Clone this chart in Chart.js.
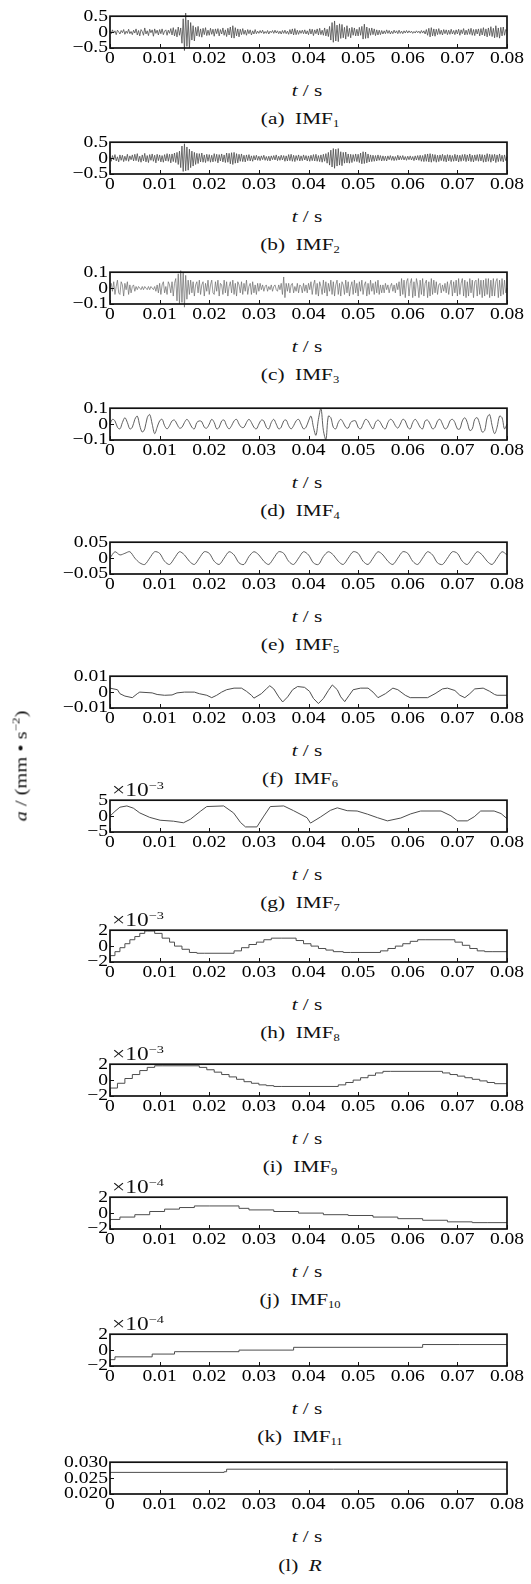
<!DOCTYPE html>
<html>
<head>
<meta charset="utf-8">
<script src="https://cdn.jsdelivr.net/npm/chart.js@4.4.1/dist/chart.umd.min.js"></script>
<style>
  body{margin:0;background:#fff;width:531px;height:1584px;position:relative;overflow:hidden;
       font-family:"Liberation Serif","Times New Roman",serif;color:#111}
  canvas{position:absolute;left:0}
  .lbl{position:absolute;white-space:nowrap;font-size:17px;line-height:1;
       transform:translate(-50%,-50%) scaleX(1.25)}
  .exp{position:absolute;white-space:nowrap;font-size:18px;line-height:1;
       transform-origin:left center;transform:translateY(-50%) scaleX(1.3)}
  sub{font-size:10px;vertical-align:-3px}
  sup{font-size:11px;vertical-align:7px}
  .ytitle{position:absolute;left:20px;top:766px;white-space:nowrap;font-size:17px;line-height:1;
       transform:translate(-50%,-50%) rotate(-90deg) scaleX(1.2)}
</style>
</head>
<body>
<script>
/* ======== DATA ======== */
const xTicks = [0, 0.01, 0.02, 0.03, 0.04, 0.05, 0.06, 0.07, 0.08];
const xTickLabels = ['0','0.01','0.02','0.03','0.04','0.05','0.06','0.07','0.08'];

// evenly sampled series over 0 .. 0.08 s
const imf1 = [
  .02,-.05,.07,-.03,.04,-.08,.06,.01,-.06,.05,-.02,.08,-.07,.03,-.04,.09,-.05,.02,-.08,.06,
  -.03,.1,-.09,.05,-.12,.08,.02,-.1,.13,-.06,.04,-.11,.09,-.02,.07,-.13,.1,-.04,.06,-.09,
  .08,-.05,.1,-.08,.03,.07,-.1,.06,-.04,.11,-.09,.14,-.12,.08,-.15,.16,-.1,.13,-.35,.42,
  -.58,.6,-.45,.38,-.5,.3,-.25,.2,-.28,.15,-.12,.18,-.14,.1,-.16,.12,-.08,.14,-.11,.06,
  -.1,.12,-.07,.09,-.13,.1,-.05,.11,-.12,.08,-.06,.13,-.1,.07,-.14,.12,-.09,.16,-.18,.2,
  -.19,.14,-.12,.1,-.15,.09,-.08,.11,-.07,.06,-.1,.08,-.05,.07,-.09,.04,-.06,.08,-.05,.03,
  -.04,.05,-.03,.06,-.05,.02,-.04,.05,-.06,.03,-.02,.05,-.04,.06,-.03,.04,-.05,.03,-.06,.05,
  -.04,.06,-.05,.03,-.07,.08,-.06,.1,-.09,.11,-.08,.06,-.07,.05,-.04,.06,-.05,.07,-.06,.04,
  -.08,.1,-.06,.09,-.11,.07,-.05,.1,-.09,.12,-.08,.06,-.1,.13,-.12,.09,-.14,.18,-.25,.3,
  -.32,.35,-.28,.22,-.3,.26,-.2,.24,-.18,.15,-.22,.2,-.14,.12,-.18,.15,-.1,.13,-.12,.09,
  -.12,.15,-.1,.18,-.22,.25,-.2,.16,-.19,.12,-.1,.13,-.08,.1,-.11,.07,-.09,.06,-.08,.05,
  -.06,.04,-.05,.07,-.04,.05,-.06,.03,-.05,.06,-.03,.04,-.05,.06,-.04,.03,-.05,.04,-.03,.05,
  -.03,.04,-.02,.03,-.04,.02,-.03,.04,-.02,.03,-.04,.05,-.03,.04,-.06,.08,-.1,.12,-.15,.14,
  -.12,.1,-.13,.09,-.08,.11,-.07,.06,-.09,.08,-.05,.07,-.08,.06,-.07,.09,-.06,.05,-.08,.07,
  -.06,.09,-.1,.07,-.05,.11,-.09,.06,-.08,.1,-.07,.12,-.1,.08,-.11,.09,-.06,.1,-.12,.11,
  -.09,.14,-.12,.1,-.15,.13,-.11,.17,-.14,.12,-.18,.2,-.16,.13,-.19,.15,-.12,.16,-.1,.08,
  .04
];
const imf2 = [
  .05,-.1,.08,-.06,.11,-.09,.04,-.12,.1,-.07,.09,-.11,.06,-.08,.12,-.1,.07,-.05,.1,-.09,
  .12,-.08,.14,-.11,.06,-.13,.1,-.09,.15,-.12,.08,-.14,.11,-.07,.13,-.1,.09,-.15,.12,-.08,
  .1,-.12,.08,-.13,.11,-.09,.14,-.1,.12,-.15,.13,-.11,.16,-.14,.18,-.2,.22,-.3,.38,-.42,
  .45,-.4,.35,-.38,.28,-.3,.22,-.25,.18,-.2,.15,-.17,.14,-.12,.16,-.13,.1,-.14,.12,-.1,
  .11,-.13,.09,-.12,.14,-.1,.12,-.15,.11,-.09,.13,-.12,.1,-.14,.16,-.13,.15,-.18,.17,-.2,
  .18,-.16,.14,-.15,.12,-.1,.13,-.11,.09,-.12,.1,-.08,.11,-.09,.07,-.1,.08,-.06,.09,-.07,
  .06,-.08,.07,-.05,.09,-.07,.05,-.08,.06,-.09,.07,-.05,.08,-.06,.1,-.08,.06,-.07,.09,-.06,
  .08,-.1,.07,-.09,.11,-.08,.12,-.1,.09,-.11,.08,-.07,.1,-.09,.07,-.08,.1,-.06,.08,-.09,
  .07,-.1,.09,-.08,.11,-.09,.12,-.1,.08,-.11,.1,-.13,.12,-.1,.14,-.16,.18,-.22,.25,-.28,
  .3,-.32,.28,-.25,.3,-.22,.2,-.24,.18,-.16,.19,-.15,.13,-.16,.12,-.14,.11,-.1,.13,-.11,
  .12,-.14,.16,-.18,.2,-.17,.19,-.15,.13,-.12,.1,-.11,.09,-.1,.08,-.09,.1,-.07,.08,-.09,
  .07,-.08,.06,-.09,.07,-.05,.08,-.07,.06,-.08,.05,-.07,.09,-.06,.07,-.05,.08,-.06,.05,-.07,
  .06,-.05,.07,-.06,.05,-.08,.07,-.06,.08,-.07,.09,-.1,.08,-.11,.12,-.1,.13,-.12,.14,-.13,
  .12,-.1,.11,-.13,.09,-.11,.1,-.08,.12,-.1,.09,-.12,.11,-.09,.1,-.11,.08,-.1,.12,-.09,
  .1,-.12,.09,-.1,.11,-.08,.12,-.11,.1,-.09,.13,-.11,.09,-.12,.1,-.08,.11,-.1,.12,-.09,
  .11,-.13,.1,-.12,.14,-.1,.12,-.13,.11,-.09,.12,-.14,.1,-.11,.13,-.1,.09,-.12,.1,-.08,
  .05
];
const imf3 = [
  0,.03,-.02,.04,-.04,.01,.05,-.03,-.04,.04,.02,-.05,.03,-.01,.04,-.04,.02,-.03,.01,.02,
  -.02,.01,-.01,.01,0,-.01,.01,-.01,.01,0,-.01,.01,-.01,.01,0,-.01,.01,-.02,.02,-.03,
  .03,-.04,.02,.04,-.03,.01,-.04,.04,.02,-.03,.04,-.05,.03,.06,-.08,.09,-.1,.11,-.09,.1,
  -.12,.08,-.07,.05,-.04,.05,-.03,.04,-.05,.02,.04,-.03,.05,-.04,.02,.04,-.05,.03,-.02,.05,
  -.04,.02,.05,-.03,-.04,.04,-.02,.05,-.05,.03,.02,-.04,.05,-.03,.04,-.05,.01,.04,-.03,.05,
  -.04,.03,-.05,.04,.02,-.03,.04,-.04,.03,-.02,.05,-.04,.01,.03,-.04,.04,-.03,.02,-.04,.03,
  -.02,.03,-.01,.02,-.02,.01,.02,-.02,.01,-.01,.02,-.02,.01,.02,-.01,-.02,.02,-.01,.03,-.04,
  .07,-.06,.03,-.02,.03,-.03,.02,.03,-.03,.01,-.02,.03,-.03,.02,.01,-.03,.03,-.02,.02,-.03,
  .03,-.01,.04,-.04,.02,.05,-.04,.03,-.05,.04,.01,-.04,.05,-.03,.04,-.05,.03,-.02,.05,-.04,
  .04,-.05,.02,.05,-.04,.03,-.05,.04,.02,-.04,.05,-.03,.04,-.05,.01,.04,-.04,.05,-.03,.03,
  -.05,.04,-.02,.05,-.04,.02,.04,-.05,.03,-.04,.05,-.02,.03,-.04,.04,-.03,.05,-.04,.02,-.03,
  .02,-.03,.03,-.01,.02,-.03,.01,.03,-.02,.02,-.03,.03,-.01,.04,-.05,.06,-.04,.05,-.06,.04,
  .06,-.05,.03,.06,-.06,.04,-.05,.06,.02,-.06,.05,-.04,.06,-.05,.03,.05,-.06,.04,-.05,.06,
  -.04,.05,-.03,.04,-.04,.02,.03,-.03,.02,-.02,.03,-.03,.04,-.04,.02,.05,-.05,.04,-.03,.05,
  -.05,.06,-.04,.03,.06,-.05,.05,-.06,.04,-.05,.06,-.03,.05,-.06,.04,.05,-.05,.06,-.04,.05,
  -.06,.05,-.05,.06,-.04,.06,-.06,.05,-.05,.06,-.05,.04,.06,-.06,.05,-.05,.06,-.04,.05,-.03,
  0
];
const imf4 = [
  0,.03,.02,-.02,-.03, .01,.04,.01,-.03,-.02, .03,.05,-.01,-.05,-.03, .04,.06,0,-.06,-.02,
  .02,.03,-.01,-.03,-.01, .02,.025,0,-.025,-.02, .01,.03,.01,-.02,-.03, .01,.02,.015,-.02,-.025,
  0,.03,.01,-.03,-.02, .02,.025,-.01,-.03,-.01, .02,.03,0,-.02,-.02, .01,.03,.01,-.02,-.03,
  0,.025,.02,-.02,-.03, .01,.03,0,-.03,-.02, .02,.025,-.01,-.03,-.01, .02,.03,0,-.03,-.02,
  .02,.05,-.02,-.07,.03, .1,-.04,-.1,.05,.04, -.02,-.03,.01,.03,.01, -.02,-.025,.01,.02,.02,
  -.02,-.03,0,.03,.02, -.01,-.03,.01,.025,.01, -.02,-.03,.01,.03,.02, -.01,-.025,0,.03,.02,
  -.02,-.03,.01,.03,.01, -.02,-.03,.02,.025,0, -.03,-.02,.02,.03,0, -.03,-.02,.02,.03,.01,
  -.03,-.03,.02,.04,.01, -.04,-.03,.03,.04,0, -.05,-.04,.04,.06,-.01, -.06,-.02,.05,.04,-.03,
  0
];
const imf5 = [
  0,.02,.01,.015,.02,0,-.015,-.02,0,.02,.015,-.01,-.02,0,.02,.01,-.01,-.02,0,.02,
  .015,-.01,-.02,0,.02,.01,-.015,-.02,.005,.02,.01,-.01,-.02,0,.02,.015,-.01,-.02,0,.02,
  .01,-.015,-.02,.005,.02,.01,-.01,-.02,0,.02,.015,-.01,-.02,0,.02,.01,-.01,-.02,0,.02,
  .015,-.01,-.02,0,.02,.01,-.015,-.02,0,.02,.015,-.01,-.02,0,.02,.01,-.01,-.02,0,.02,
  .01
];

// breakpoint series: time (s) and value
const imf6T = [0,.0015,.002,.003,.0045,.0055,.006,.0085,.0095,.011,.0125,.0135,.015,.017,.018,.0195,.0205,.0215,.0225,.0235,
  .025,.0265,.0275,.0285,.029,.0305,.0315,.0322,.033,.034,.0348,.0358,.0368,.0378,.0392,.0402,.041,.042,.043,.044,
  .0448,.0458,.0465,.0473,.0482,.049,.0505,.052,.053,.054,.0555,.057,.058,.0595,.0605,.064,.0655,.067,.068,.0695,
  .0705,.0715,.0725,.0735,.0752,.0765,.0775,.078,.08];
const imf6V = [.0025,.0015,-.001,-.0025,-.0035,-.001,0,-.0005,-.0015,-.002,-.0018,-.0005,0,0,-.001,-.002,-.0035,-.002,0,.0015,
  .0025,.0025,.0005,-.002,-.0038,-.001,.002,.004,.002,-.003,-.0062,-.003,.0015,.0035,.003,.0005,-.004,-.0072,-.004,.001,
  .0045,.0015,-.003,-.006,-.002,.0015,.0025,.0025,0,-.0035,-.001,.0025,.0015,-.002,-.0035,-.0035,-.001,.002,.0025,.001,
  -.002,-.0035,-.001,.002,.0025,.0005,-.0015,-.002,-.002];

const imf7T = [0,.001,.002,.0034,.0047,.006,.008,.0101,.0128,.0148,.0162,.0182,.0195,.0229,.0249,.0263,.0273,.0296,.031,.0323,
  .035,.037,.0397,.0404,.0424,.0444,.0458,.0478,.0498,.0519,.0539,.0559,.0586,.0606,.0626,.0667,.0687,.07,.072,.0734,
  .0747,.0774,.0788,.08];
const imf7V = [0,1.5,2.8,3.2,2.5,1,-.4,-1.3,-1.6,-2.1,-1,1.5,3,3.2,1,-2,-3.4,-3.4,0,3,
  3.2,1.7,-.5,-2.2,-.3,1.8,2.6,1.7,1.6,.6,-.5,-1.5,-.6,.7,1.6,1.6,.1,-1.5,-1.5,-.2,
  1.6,1.6,.8,-.8];

const imf8T = [0,.001,.002,.003,.004,.005,.006,.007,.0075,.009,.0105,.012,.013,.0145,.016,.0175,.019,.025,.0265,.028,
  .0295,.031,.0325,.0345,.0375,.039,.0405,.042,.0435,.045,.047,.0485,.0545,.056,.0575,.059,.0605,.062,.0635,.0695,
  .071,.0725,.074,.0755,.077,.08];
const imf8V = [-1.6,-1.2,-.7,-.2,.3,.8,1.2,1.6,1.9,1.9,1.6,1,.5,0,-.4,-.8,-.9,-.9,-.6,-.2,
  .2,.5,.8,1,1,.7,.3,0,-.3,-.5,-.7,-.8,-.8,-.6,-.3,0,.3,.6,.8,.8,
  .5,.1,-.3,-.6,-.7,-.7];

const imf9T = [0,.0015,.003,.0045,.006,.0075,.009,.0105,.018,.0195,.021,.0225,.024,.0255,.027,.0285,.03,.0315,.033,.0345,
  .046,.0475,.049,.0505,.052,.0535,.055,.0565,.067,.0685,.07,.0715,.073,.0745,.076,.0775,.079,.08];
const imf9V = [-1.5,-1,-.4,.2,.7,1.2,1.6,1.8,1.8,1.6,1.3,1,.7,.4,.1,-.2,-.4,-.6,-.7,-.8,
  -.8,-.6,-.3,0,.3,.6,.9,1.1,1.1,.9,.7,.5,.3,.1,-.1,-.3,-.45,-.45];

const imf10T = [0,.002,.005,.008,.011,.014,.017,.02,.026,.028,.033,.038,.043,.048,.053,.058,.063,.068,.073,.076,.08];
const imf10V = [-1,-.8,-.5,-.2,.2,.5,.7,.9,.9,.6,.4,.2,0,-.2,-.3,-.5,-.7,-.9,-1.1,-1.2,-1.2];

const imf11T = [0,.001,.0085,.013,.026,.037,.063,.0705,.08];
const imf11V = [-1.5,-1.2,-.85,-.5,-.2,0,.35,.7,.7];

const resT = [0,.023,.0235,.045,.08];
const resV = [.0261,.0268,.027,.0278,.0278];

// y ticks
const yTicks05 = [0.5, 0, -0.5],     yLabels05 = ['0.5','0','\u22120.5'];
const yTicks01 = [0.1, 0, -0.1],     yLabels01 = ['0.1','0','\u22120.1'];
const yTicks005 = [0.05, 0, -0.05],  yLabels005 = ['0.05','0','\u22120.05'];
const yTicks001 = [0.01, 0, -0.01],  yLabels001 = ['0.01','0','\u22120.01'];
const yTicks5 = [5, 0, -5],          yLabels5 = ['5','0','\u22125'];
const yTicks2 = [2, 0, -2],          yLabels2 = ['2','0','\u22122'];
const yTicksR = [0.03, 0.025, 0.02], yLabelsR = ['0.030','0.025','0.020'];

const captions = ['(a)&nbsp; IMF<sub>1</sub>','(b)&nbsp; IMF<sub>2</sub>','(c)&nbsp; IMF<sub>3</sub>','(d)&nbsp; IMF<sub>4</sub>',
  '(e)&nbsp; IMF<sub>5</sub>','(f)&nbsp; IMF<sub>6</sub>','(g)&nbsp; IMF<sub>7</sub>','(h)&nbsp; IMF<sub>8</sub>',
  '(i)&nbsp; IMF<sub>9</sub>','(j)&nbsp; IMF<sub>10</sub>','(k)&nbsp; IMF<sub>11</sub>','(l)&nbsp; <i>R</i>'];

/* ======== HELPERS ======== */
const even = arr => arr.map((v,i)=>({x: i*0.08/(arr.length-1), y: v}));
const pairs = (T,V) => T.map((t,i)=>({x: t, y: V[i]}));

const PT = 12, BOX_H = 32, XH = 26, LEFT = 110, RIGHT = 507, W = 531;
const FONT = {family:'"Liberation Serif","Times New Roman",serif', size:17};

const panels = [
  {top:16,   pts:even(imf1), yt:yTicks05, yl:yLabels05, clip:10, bw:.8, col:'#4d4d4d'},
  {top:142,  pts:even(imf2), yt:yTicks05, yl:yLabels05, clip:10, bw:.8, col:'#4d4d4d'},
  {top:272,  pts:even(imf3), yt:yTicks01, yl:yLabels01, clip:10, bw:.7, col:'#6a6a6a'},
  {top:408,  pts:even(imf4), yt:yTicks01, yl:yLabels01, clip:6, bw:.9, tension:.35},
  {top:542,  pts:even(imf5), yt:yTicks005, yl:yLabels005, bw:.9, tension:.3},
  {top:676,  pts:pairs(imf6T,imf6V), yt:yTicks001, yl:yLabels001, bw:1},
  {top:800,  pts:pairs(imf7T,imf7V), yt:yTicks5, yl:yLabels5, bw:1, exp:'3'},
  {top:930,  pts:pairs(imf8T,imf8V), yt:yTicks2, yl:yLabels2, bw:1, exp:'3', step:'after'},
  {top:1064, pts:pairs(imf9T,imf9V), yt:yTicks2, yl:yLabels2, bw:1, exp:'3', step:'after'},
  {top:1197, pts:pairs(imf10T,imf10V), yt:yTicks2, yl:yLabels2, bw:1, exp:'4', step:'after'},
  {top:1334, pts:pairs(imf11T,imf11V), yt:yTicks2, yl:yLabels2, bw:1, exp:'4', step:'after'},
  {top:1462, pts:pairs(resT,resV), yt:yTicksR, yl:yLabelsR, bw:1, step:'after'}
];

/* ======== PLUGINS ======== */
// the printed figure has horizontally widened lettering
const stretch = {
  id:'stretch',
  beforeInit(chart){
    const ctx = chart.ctx;
    const orig = ctx.fillText.bind(ctx);
    ctx.fillText = function(t, x, y){
      this.save(); this.translate(x, y); this.scale(1.15, 1); orig(t, 0, 0); this.restore();
    };
  }
};

const frame = {
  id:'frame',
  afterDatasetsDraw(chart){
    const {ctx, chartArea:a, scales:{x, y}} = chart;
    ctx.save();
    ctx.strokeStyle = '#111';
    ctx.lineWidth = 1.7;
    ctx.strokeRect(a.left, a.top, a.right - a.left, a.bottom - a.top);
    ctx.lineWidth = 1;
    ctx.beginPath();
    x.ticks.forEach(t=>{
      const px = Math.round(x.getPixelForValue(t.value)) + .5;
      ctx.moveTo(px, a.bottom); ctx.lineTo(px, a.bottom - 4);
    });
    y.ticks.forEach(t=>{
      const py = Math.round(y.getPixelForValue(t.value)) + .5;
      ctx.moveTo(a.left, py); ctx.lineTo(a.left + 4, py);
    });
    ctx.stroke();
    ctx.restore();
  }
};

function label(html, cls, x, y){
  const d = document.createElement('div');
  d.className = cls;
  d.innerHTML = html;
  d.style.left = x + 'px';
  d.style.top = y + 'px';
  document.body.appendChild(d);
}

/* ======== BUILD ======== */
panels.forEach((p, k)=>{
  const c = document.createElement('canvas');
  c.width = W; c.height = PT + BOX_H + XH;
  c.style.top = (p.top - PT) + 'px';
  document.body.appendChild(c);

  const ymin = Math.min(...p.yt), ymax = Math.max(...p.yt);
  new Chart(c, {
    type:'line',
    data:{datasets:[{
      data:p.pts, borderColor:p.col || '#4d4d4d', borderWidth:p.bw, pointRadius:0,
      tension:p.tension || 0, stepped:p.step || false, clip:p.clip || 0
    }]},
    options:{
      responsive:false, animation:false, events:[],
      layout:{padding:{top:PT, right:W - RIGHT, left:0, bottom:0}},
      plugins:{legend:{display:false}, tooltip:{enabled:false}},
      scales:{
        x:{type:'linear', min:0, max:0.08,
           afterBuildTicks:s=>{ s.ticks = xTicks.map(v=>({value:v})); },
           afterFit:s=>{ s.height = XH; },
           ticks:{callback:(v,i)=>xTickLabels[i], font:FONT, color:'#000', padding:0,
                  maxRotation:0, autoSkip:false},
           grid:{display:false, drawTicks:false}, border:{display:false}},
        y:{min:ymin, max:ymax,
           afterBuildTicks:s=>{ s.ticks = p.yt.map(v=>({value:v})); },
           afterFit:s=>{ s.width = LEFT; },
           ticks:{callback:(v,i)=>p.yl[i], font:FONT, color:'#000', padding:2, autoSkip:false},
           grid:{display:false, drawTicks:false}, border:{display:false}}
      }
    },
    plugins:[stretch, frame]
  });

  const bottom = p.top + BOX_H;
  label('<i>t</i> / s', 'lbl', 307, bottom + 42);
  label(captions[k], 'lbl', 300, bottom + 71);
  if(p.exp) label('\u00d710<sup>\u2212' + p.exp + '</sup>', 'exp', 112, p.top - 11);
});

const yt = document.createElement('div');
yt.className = 'ytitle';
yt.innerHTML = '<i>a</i> / (mm \u2022 s<sup>\u22122</sup>)';
document.body.appendChild(yt);
</script>
</body>
</html>
